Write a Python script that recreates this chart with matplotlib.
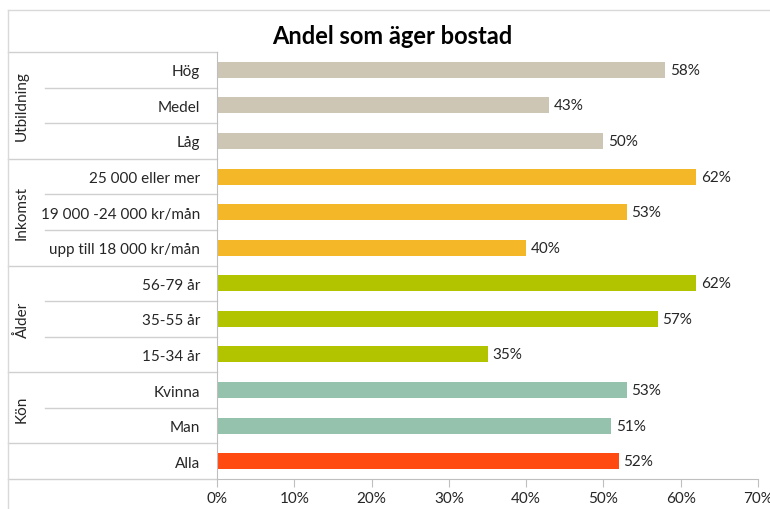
import matplotlib.pyplot as plt
from matplotlib.lines import Line2D

plt.rcParams['font.family'] = ['Lato', 'DejaVu Sans']

# data, top to bottom as shown
labels = ["Hög", "Medel", "Låg",
          "25 000 eller mer", "19 000 -24 000 kr/mån", "upp till 18 000 kr/mån",
          "56-79 år", "35-55 år", "15-34 år",
          "Kvinna", "Man",
          "Alla"]
values = [58, 43, 50, 62, 53, 40, 62, 57, 35, 53, 51, 52]
groups = ["Utbildning", "Inkomst", "Ålder", "Kön", ""]
group_sizes = [3, 3, 3, 2, 1]
group_colors = ["#CEC6B4", "#F3B727", "#B2C400", "#95C2AD", "#FF4A12"]
xticks = [0, 10, 20, 30, 40, 50, 60, 70]

W, H = 770, 510
fig = plt.figure(figsize=(W / 100, H / 100), dpi=100)

# plot area in pixels
x0, x1 = 217, 758
y_top, y_bot = 53, 480
ax = fig.add_axes([x0 / W, 1 - y_bot / H, (x1 - x0) / W, (y_bot - y_top) / H])

colors = []
for c, n in zip(group_colors, group_sizes):
    colors += [c] * n

ypos = list(range(len(labels)))
ax.barh(ypos, values, height=0.45, color=colors)
for y, v in zip(ypos, values):
    ax.text(v + 0.6, y, f"{v}%", va='center', ha='left', fontsize=11, color='#262626')

ax.set_xlim(0, 70)
ax.set_ylim(len(labels) - 0.5, -0.5)
ax.set_xticks(xticks)
ax.set_xticklabels([f"{t}%" for t in xticks], fontsize=11, color='#262626')
ax.set_yticks(ypos)
ax.set_yticklabels(labels, fontsize=11, color='#262626')
ax.tick_params(axis='y', length=0, pad=12)
ax.tick_params(axis='x', length=6, color='#BFBFBF', pad=3)
for s in ['top', 'right']:
    ax.spines[s].set_visible(False)
for s in ['left', 'bottom']:
    ax.spines[s].set_color('#BFBFBF')

# separator lines in the category area
tr = ax.get_yaxis_transform()
ax_w = x1 - x0
full_left = (8 - x0) / ax_w
inner_left = (45 - x0) / ax_w
lc = '#D0D0D0'
start = 0
ax.plot([full_left, 0], [-0.5, -0.5], transform=tr, color=lc, lw=1, clip_on=False)
for g, n in zip(groups, group_sizes):
    for k in range(1, n):
        yb = start + k - 0.5
        ax.plot([inner_left, 0], [yb, yb], transform=tr, color=lc, lw=1, clip_on=False)
    end = start + n - 0.5
    ax.plot([full_left, 0], [end, end], transform=tr, color=lc, lw=1, clip_on=False)
    if g:
        ax.text((22 - x0) / ax_w, start + (n - 1) / 2, g, transform=tr, rotation=90,
                ha='center', va='center', fontsize=11, color='#262626')
    start += n

# outer chart frame (cropped on right and bottom)
fc = '#D9D9D9'
fig.add_artist(Line2D([8 / W, 1], [1 - 11 / H, 1 - 11 / H], color=fc, lw=1))
fig.add_artist(Line2D([8 / W, 8 / W], [0, 1 - 11 / H], color=fc, lw=1))

fig.text(392 / W, 1 - 37 / H, "Andel som äger bostad", ha='center', va='center',
         fontsize=17, fontweight='bold', color='black')

fig.savefig('out.png', dpi=100)
